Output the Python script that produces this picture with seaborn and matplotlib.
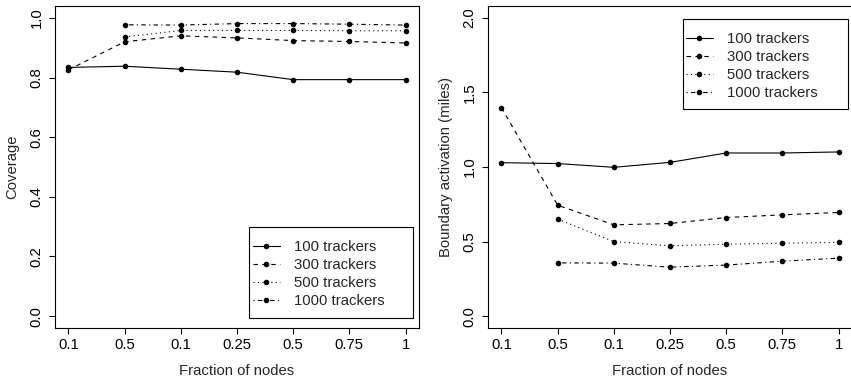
import numpy as np
import pandas as pd
import matplotlib
matplotlib.use("Agg")
import matplotlib.pyplot as plt
from matplotlib.patches import Rectangle
import seaborn as sns

# Fraction-of-nodes settings along the x axis (in run order)
fractions = ["0.1", "0.5", "0.1", "0.25", "0.5", "0.75", "1"]
series = ["100 trackers", "300 trackers", "500 trackers", "1000 trackers"]

nan = np.nan
coverage_100 = [0.834, 0.838, 0.828, 0.818, 0.793, 0.793, 0.793]
coverage_300 = [0.826, 0.920, 0.940, 0.933, 0.924, 0.921, 0.916]
coverage_500 = [nan, 0.936, 0.958, 0.958, 0.958, 0.957, 0.957]
coverage_1000 = [nan, 0.977, 0.976, 0.981, 0.981, 0.979, 0.976]

boundary_100 = [1.029, 1.023, 0.998, 1.031, 1.094, 1.094, 1.101]
boundary_300 = [1.398, 0.744, 0.612, 0.621, 0.661, 0.679, 0.695]
boundary_500 = [nan, 0.650, 0.500, 0.471, 0.482, 0.489, 0.494]
boundary_1000 = [nan, 0.357, 0.355, 0.328, 0.342, 0.368, 0.389]


def long_frame(values):
    rows = []
    for name, vals in zip(series, values):
        for i, v in enumerate(vals):
            if not np.isnan(v):
                rows.append({"pos": i + 1, "value": v, "trackers": name})
    return pd.DataFrame(rows)


coverage = long_frame([coverage_100, coverage_300, coverage_500, coverage_1000])
boundary = long_frame([boundary_100, boundary_300, boundary_500, boundary_1000])

sns.set_style("ticks")
plt.rcParams["font.family"] = ["Liberation Sans", "DejaVu Sans"]
plt.rcParams["font.size"] = 10.7
plt.rcParams["axes.linewidth"] = 0.8
plt.rcParams["xtick.major.width"] = 0.8
plt.rcParams["ytick.major.width"] = 0.8
plt.rcParams["xtick.major.size"] = 4.3
plt.rcParams["ytick.major.size"] = 4.3
plt.rcParams["xtick.color"] = "black"
plt.rcParams["ytick.color"] = "black"
plt.rcParams["axes.edgecolor"] = "black"

line_dashes = ["", (4, 4), (1, 3), (1, 3, 4, 3)]
FS = 10.7
W, H = 851, 380

fig = plt.figure(figsize=(W / 100, H / 100), dpi=100)
ax1 = fig.add_axes([55 / W, 52 / H, 364 / W, 322 / H])
ax2 = fig.add_axes([488 / W, 52 / H, 364 / W, 322 / H])


def to_axes(ax_left, px, py):
    """Pixel position in the figure -> axes fraction for a panel."""
    return (px - ax_left) / 364, (328 - py) / 322


def draw(ax, ax_left, data, ymax, yticks, ylabel, box, entry_anchor):
    sns.lineplot(data=data, x="pos", y="value", style="trackers",
                 style_order=series, dashes=line_dashes,
                 markers=["o"] * 4, markersize=4, markeredgewidth=0,
                 color="black", linewidth=0.8, estimator=None, sort=False,
                 ax=ax)
    ax.set_xlim(0.76, 7.24)
    ax.set_ylim(-0.04 * ymax, 1.04 * ymax)
    ax.set_xticks(range(1, 8))
    ax.set_xticklabels(fractions, fontsize=FS)
    ax.set_yticks(yticks)
    ax.set_yticklabels([f"{t:.1f}" for t in yticks], rotation=90,
                       va="center", fontsize=FS)
    ax.tick_params(axis="x", pad=3)
    ax.tick_params(axis="y", pad=4)
    ax.set_xlabel("Fraction of nodes", fontsize=FS, labelpad=8.5)
    ax.set_ylabel(ylabel, fontsize=FS, labelpad=7)
    for sp in ax.spines.values():
        sp.set_visible(True)
        sp.set_color("black")

    handles, labels = ax.get_legend_handles_labels()
    if ax.get_legend() is not None:
        ax.get_legend().remove()
    # legend frame
    x0, y0, x1, y1 = box
    bx, by = to_axes(ax_left, x0, y1)
    ax.add_patch(Rectangle((bx, by), (x1 - x0) / 364, (y1 - y0) / 322,
                           transform=ax.transAxes, facecolor="white",
                           edgecolor="black", linewidth=0.8, zorder=4,
                           clip_on=False))
    leg = ax.legend(handles, labels, loc="upper left",
                    bbox_to_anchor=to_axes(ax_left, *entry_anchor),
                    borderaxespad=0, borderpad=0, frameon=False,
                    fontsize=FS, handlelength=1.8, handletextpad=0.95,
                    labelspacing=0.27, numpoints=1)
    leg.set_zorder(5)


draw(ax1, 55, coverage, 1.0, [0.0, 0.2, 0.4, 0.6, 0.8, 1.0], "Coverage",
     (249, 226.7, 413, 317.7), (253, 240))
draw(ax2, 488, boundary, 2.0, [0.0, 0.5, 1.0, 1.5, 2.0],
     "Boundary activation (miles)",
     (682.7, 18.7, 847.7, 109), (686, 31.8))

fig.savefig("out.png", dpi=100)
